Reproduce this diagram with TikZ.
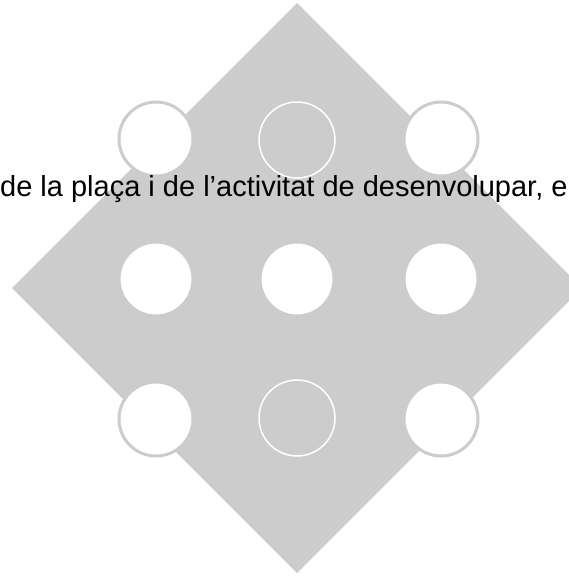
\documentclass[tikz,border=0pt]{standalone}
\usepackage{fontspec}
\setmainfont{Liberation Sans}
\definecolor{plaza}{HTML}{CCCCCC}
\begin{document}
\begin{tikzpicture}[x=1pt,y=-1pt,
  hole/.style={circle,fill=white,draw=plaza,line width=3pt,minimum size=74pt,inner sep=0pt},
  ring/.style={circle,draw=white,line width=1.5pt,minimum size=76pt,inner sep=0pt}]
\useasboundingbox (0,0) rectangle (569,576);
\clip (0,0) rectangle (569,576);
% the square, turned on its corner
\fill[plaza] (297,3) -- (582,288) -- (297,573) -- (12,288) -- cycle;
% white places
\foreach \n/\x/\y in {tl/156/139, tr/441/139, ml/156/279, mm/297/279, mr/441/279, bl/156/419, br/441/419}
  \node[hole] (\n) at (\x,\y) {};
% empty places
\node[ring] (tm) at (297,140) {};
\node[ring] (bm) at (297,418) {};
\node[anchor=base west,inner sep=0pt,font=\fontsize{29}{35}\selectfont] (txt) at (0,196) {de la plaça i de l’activitat de desenvolupar, e};
\end{tikzpicture}
\end{document}
